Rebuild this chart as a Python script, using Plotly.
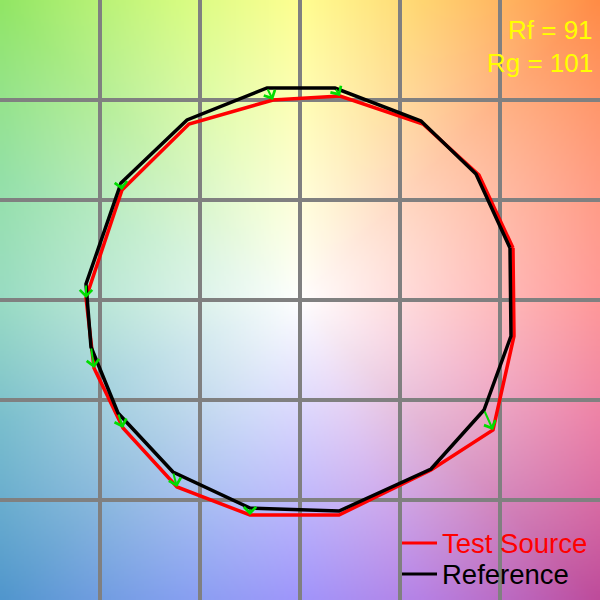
import base64, struct, zlib
import numpy as np
import plotly.graph_objects as go

# ---- data (normalized a*/b* coordinates) ----
bins = list(range(1, 17))
ref_x = [1.05, 0.88, 0.605, 0.175, -0.165, -0.565, -0.895, -1.07, -1.045, -0.91, -0.635, -0.25, 0.195, 0.655, 0.92, 1.055]
ref_y = [0.26, 0.63, 0.895, 1.06, 1.06, 0.90, 0.585, 0.08, -0.235, -0.565, -0.86, -1.04, -1.055, -0.845, -0.55, -0.18]
test_x = [1.065, 0.895, 0.615, 0.20, -0.135, -0.555, -0.89, -1.07, -1.03, -0.885, -0.615, -0.25, 0.195, 0.655, 0.965, 1.07]
test_y = [0.26, 0.625, 0.88, 1.02, 1.00, 0.88, 0.55, 0.01, -0.34, -0.64, -0.935, -1.075, -1.075, -0.85, -0.65, -0.18]
series_names = ["Test Source", "Reference"]
series_colors = ["#ff0000", "#000000"]
rf = 91
rg = 101

# ---- decorative hue-wheel background ----
anchor_deg = np.arange(0, 360, 22.5)
anchor_rgb = np.array([
    (255, 110, 110), (255, 125, 90), (255, 140, 70), (255, 200, 70),
    (255, 255, 100), (200, 250, 90), (145, 230, 100), (115, 215, 140),
    (110, 205, 170), (80, 170, 190), (80, 150, 205), (95, 130, 235),
    (120, 105, 250), (160, 90, 220), (190, 75, 155), (230, 90, 140),
], dtype=float)

N = 240
g = -1.5 + (np.arange(N) + 0.5) * 3.0 / N
X, Y = np.meshgrid(g, g[::-1])
theta = np.degrees(np.arctan2(Y, X)) % 360
r = np.hypot(X, Y)
ext_deg = np.append(anchor_deg, 360.0)
ext_rgb = np.vstack([anchor_rgb, anchor_rgb[:1]])
C = np.stack([np.interp(theta, ext_deg, ext_rgb[:, k]) for k in range(3)], axis=-1)
f = np.clip(r / 2.12, 0, 1)[..., None]
img = np.clip(255 + (C - 255) * f, 0, 255).astype(np.uint8)


def to_png(a):
    h, w, _ = a.shape
    raw = b"".join(b"\x00" + a[i].tobytes() for i in range(h))

    def chunk(t, d):
        c = struct.pack(">I", len(d)) + t + d
        return c + struct.pack(">I", zlib.crc32(t + d) & 0xFFFFFFFF)

    return (b"\x89PNG\r\n\x1a\n"
            + chunk(b"IHDR", struct.pack(">IIBBBBB", w, h, 8, 2, 0, 0, 0))
            + chunk(b"IDAT", zlib.compress(raw, 9))
            + chunk(b"IEND", b""))


src = "data:image/png;base64," + base64.b64encode(to_png(img)).decode()
FONT = "Liberation Sans, Arial, sans-serif"

fig = go.Figure()
fig.add_trace(go.Scatter(
    x=test_x + test_x[:1], y=test_y + test_y[:1], mode="lines",
    line=dict(color=series_colors[0], width=3.5), name=series_names[0],
    showlegend=False))
fig.add_trace(go.Scatter(
    x=ref_x + ref_x[:1], y=ref_y + ref_y[:1], mode="lines",
    line=dict(color=series_colors[1], width=3.5), name=series_names[1],
    showlegend=False))

for rx, ry, tx, ty in zip(ref_x, ref_y, test_x, test_y):
    fig.add_annotation(x=tx, y=ty, ax=rx, ay=ry, xref="x", yref="y",
                       axref="x", ayref="y", text="", showarrow=True,
                       arrowhead=4, arrowsize=1.2, arrowwidth=2,
                       arrowcolor="#00dd00", standoff=0, startstandoff=0)

# Rf / Rg text
fig.add_annotation(x=0.9917, y=1 - 30 / 600, xref="paper", yref="paper",
                   xanchor="right", yanchor="middle", showarrow=False,
                   text=f"Rf = {rf}",
                   font=dict(color="#ffff00", size=26, family=FONT))
fig.add_annotation(x=0.9917, y=1 - 63 / 600, xref="paper", yref="paper",
                   xanchor="right", yanchor="middle", showarrow=False,
                   text=f"Rg = {rg}",
                   font=dict(color="#ffff00", size=26, family=FONT))

# legend (drawn in the lower-right corner)
for k, (nm, col) in enumerate(zip(series_names, series_colors)):
    yp = 1 - (543 + 31 * k) / 600
    fig.add_shape(type="line", xref="paper", yref="paper",
                  x0=402 / 600, x1=437 / 600, y0=yp, y1=yp,
                  line=dict(color=col, width=3))
    fig.add_annotation(x=440 / 600, y=yp, xref="paper", yref="paper",
                       xanchor="left", yanchor="middle", showarrow=False,
                       text=nm, font=dict(color=col, size=27.5, family=FONT))

fig.add_layout_image(dict(source=src, xref="x", yref="y", x=-1.5, y=1.5,
                          sizex=3, sizey=3, xanchor="left", yanchor="top",
                          sizing="stretch", layer="below"))

ax = dict(range=[-1.5, 1.5], showgrid=True, gridcolor="#808080", gridwidth=4,
          dtick=0.5, tick0=0, zeroline=False, showline=False,
          showticklabels=False, ticks="", fixedrange=True)
fig.update_layout(
    width=600, height=600, margin=dict(l=0, r=0, t=0, b=0),
    paper_bgcolor="white", plot_bgcolor="rgba(0,0,0,0)",
    xaxis=ax, yaxis=ax, showlegend=False,
)
fig.write_html("out.html", config={"displayModeBar": False},
               post_script="document.body.style.margin='0px';document.body.style.overflow='hidden';")
